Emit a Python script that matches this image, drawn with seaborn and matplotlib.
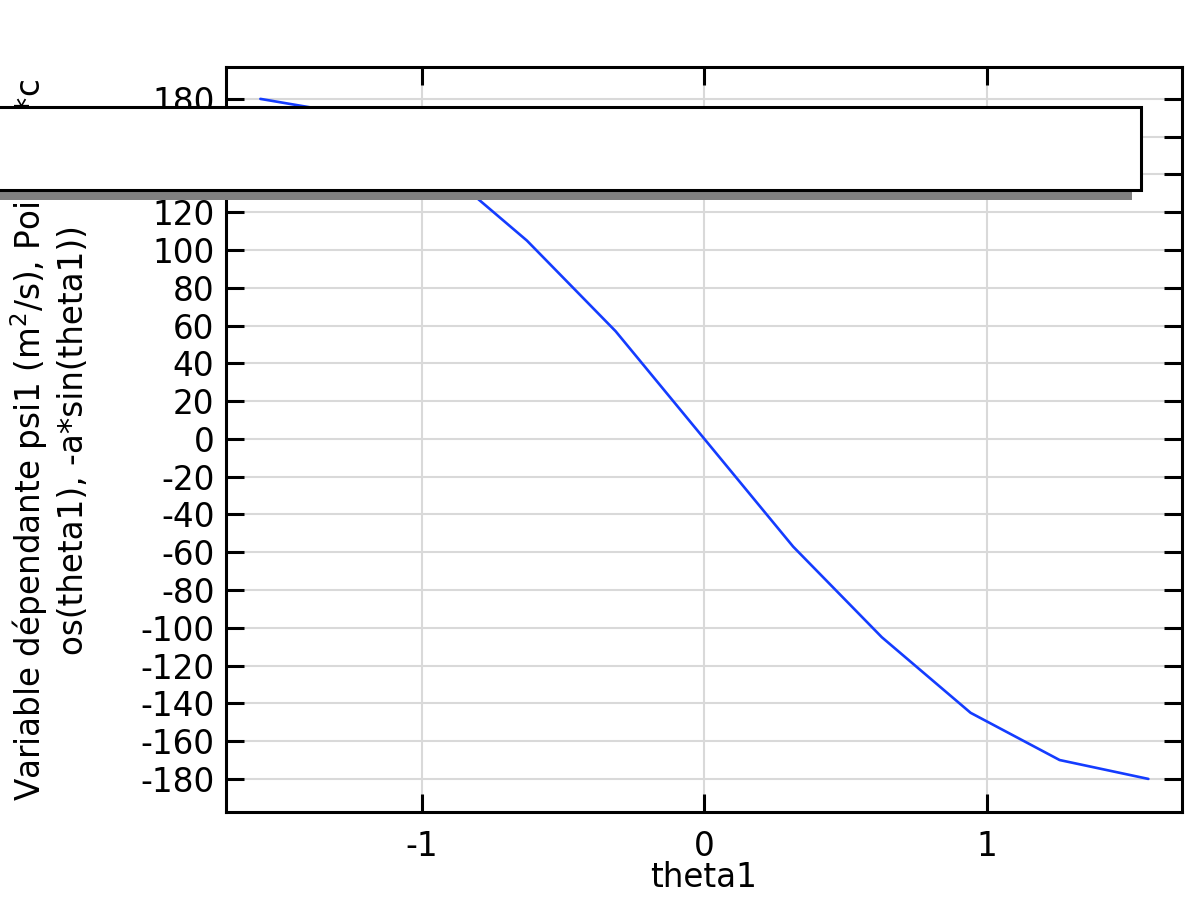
import matplotlib
matplotlib.use("Agg")
import matplotlib.pyplot as plt
import matplotlib.patches as mpatches
import seaborn as sns
import pandas as pd

# values
theta1 = [-1.571, -1.257, -0.942, -0.628, -0.314, 0.0, 0.314, 0.628, 0.942, 1.257, 1.571]
psi1 = [180, 172, 145, 105, 57, 0, -57, -105, -145, -170, -180]
x_ticks = [-1, 0, 1]
y_ticks = list(range(-180, 181, 20))

df = pd.DataFrame({"theta1": theta1, "psi1": psi1})

sns.set_theme(style="white")
plt.rcParams['font.family'] = ['DejaVu Sans']
plt.rcParams['axes.unicode_minus'] = False
plt.rcParams['text.color'] = 'black'
plt.rcParams['axes.labelcolor'] = 'black'

fig = plt.figure(figsize=(12, 9), dpi=100)
ax = fig.add_axes([0.188, 0.0978, 0.797, 0.8278])

sns.lineplot(data=df, x="theta1", y="psi1", ax=ax, color="#143cff", linewidth=1.9)

ax.set_xlim(-1.694, 1.690)
ax.set_ylim(-197.5, 196.9)
ax.set_xticks(x_ticks)
ax.set_yticks(y_ticks)

ax.grid(True, color="#d9d9d9", linewidth=1.5)
ax.set_axisbelow(True)
for s in ax.spines.values():
    s.set_color("black")
    s.set_linewidth(2.2)
    s.set_visible(True)

ax.tick_params(direction="in", length=13, width=2.2, colors="black",
               top=True, right=True, bottom=True, left=True, labelsize=23.5)
ax.tick_params(axis="x", pad=13)
ax.tick_params(axis="y", pad=8)

ax.set_xlabel("theta1", fontsize=23.5, color="black")
ax.xaxis.set_label_coords(0.5, -0.066)
ax.set_ylabel("")

fig.text(0.041, 0.511,
         "Variable dépendante psi1 (m$^2$/s), Point: (a*c\nos(theta1), -a*sin(theta1))",
         rotation=90, ha="center", va="center", fontsize=23.5,
         multialignment="center", linespacing=1.25)

# empty legend box with shadow, as in the original export
W, H = 1200.0, 900.0
shadow = mpatches.Rectangle((-30 / W, 1 - 200 / H), 1162 / W, 83 / H,
                            transform=fig.transFigure, facecolor="#808080",
                            edgecolor="none", zorder=10)
box = mpatches.Rectangle((-30 / W, 1 - 190 / H), 1171 / W, 83 / H,
                         transform=fig.transFigure, facecolor="white",
                         edgecolor="black", linewidth=2.2, zorder=11)
fig.add_artist(shadow)
fig.add_artist(box)

fig.savefig("out.png", dpi=100)
